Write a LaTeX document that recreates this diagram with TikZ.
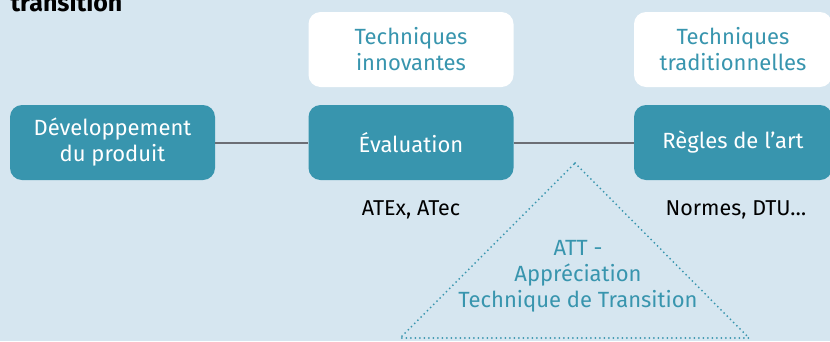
\documentclass[tikz,border=0pt]{standalone}
\usepackage{fontspec}
\setmainfont{Fira Sans}
\usetikzlibrary{positioning}

\definecolor{fond}{HTML}{D6E6F0}
\definecolor{bleu}{HTML}{3895AE}
\definecolor{gris}{HTML}{6C6E75}

\tikzset{
    etape/.style={fill=bleu,text=white,rounded corners=12pt,align=center,
        minimum width=205pt,minimum height=75pt,font=\fontsize{22}{26}\selectfont},
    famille/.style={fill=white,text=bleu,rounded corners=12pt,align=center,
        minimum width=205pt,minimum height=75pt,font=\fontsize{22}{26}\selectfont},
    renvoi/.style={font=\fontsize{21.5}{26}\selectfont},
}

\begin{document}
\begin{tikzpicture}[x=1pt,y=-1pt]
    \useasboundingbox (0,0) rectangle (830,341);
    \clip (0,0) rectangle (830,341);
    \fill[fond] (0,0) rectangle (830,341);

    \node[anchor=base west,font=\bfseries\fontsize{25}{30}\selectfont] (titre) at (7,11) {transition};

    % familles de techniques
    \node[famille] (innov) at (411,49.5) {Techniques\\innovantes};
    \node[famille,minimum width=198pt] (trad) at (733,49.5) {Techniques\\traditionnelles};

    % parcours
    \node[etape] (dev) at (112.5,142.5) {Développement\\du produit};
    \node[etape] (eval) at (411,142.5) {Évaluation};
    \node[etape,minimum width=198pt] (regles) at (733,142.5) {Règles de l’art};
    \draw[gris,line width=2pt] (dev) -- (eval);
    \draw[gris,line width=2pt] (eval) -- (regles);

    \node[renvoi] (atex) at (411,210) {ATEx, ATec};
    \node[renvoi] (normes) at (736,210) {Normes, DTU…};

    % ATT
    \coordinate (sommet) at (575,163);
    \coordinate (gauche) at (400,338);
    \coordinate (droite) at (749,338);
    \draw[bleu,line width=2pt,line cap=round,dash pattern=on 0pt off 4.5pt]
        (sommet) -- (droite) -- (gauche) -- cycle;
    \node[text=bleu,align=center,font=\fontsize{22}{26}\selectfont] (att) at (578,276)
        {ATT -\\Appréciation\\Technique de Transition};
\end{tikzpicture}
\end{document}
